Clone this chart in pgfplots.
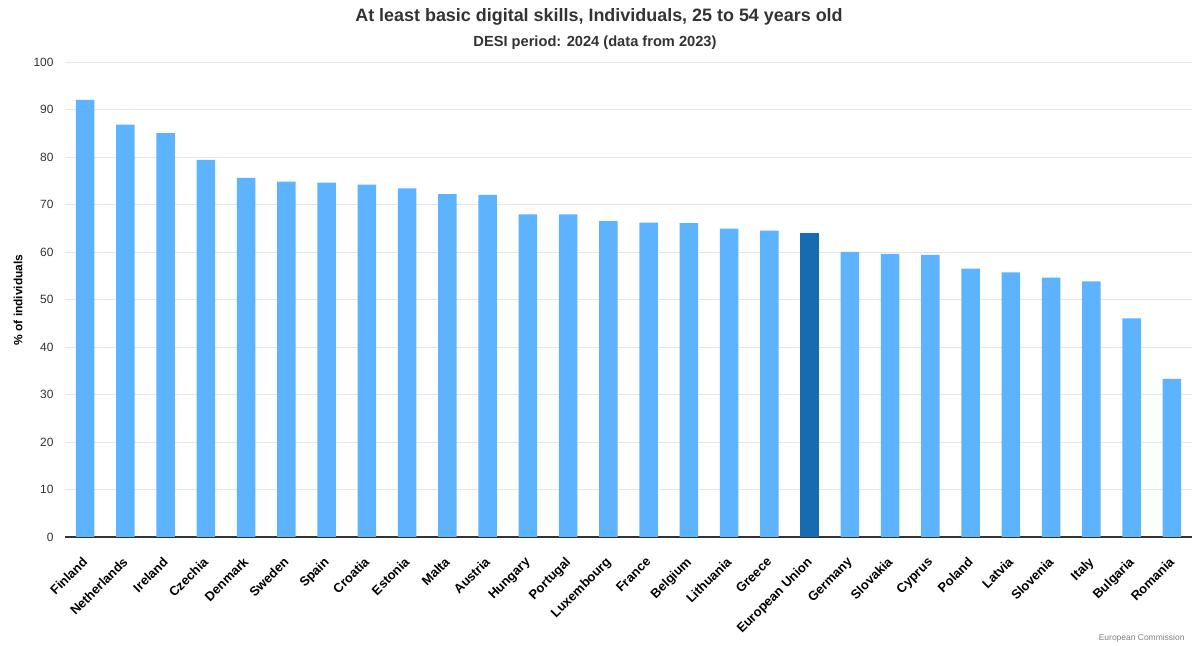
\documentclass[border=0pt]{standalone}
\usepackage{fontspec}
\setmainfont{Liberation Sans}
\usepackage{pgfplots}
\pgfplotsset{compat=1.18}
\definecolor{barblue}{HTML}{5EB3FF}
\definecolor{eublue}{HTML}{176BB0}
\definecolor{gridgray}{HTML}{E6E6E6}
\definecolor{txt}{HTML}{333333}
\begin{document}
\begin{tikzpicture}[x=1bp,y=1bp]
\path[use as bounding box] (0,0) rectangle (1193,646);
\begin{axis}[
  at={(65bp,109bp)}, anchor=south west,
  scale only axis, width=1127bp, height=475bp,
  ymin=0, ymax=100, xmin=-0.5, xmax=27.5,
  ytick={0,10,...,100},
  xtick={0,...,27},
  xticklabels={Finland,Netherlands,Ireland,Czechia,Denmark,Sweden,Spain,Croatia,Estonia,Malta,Austria,Hungary,Portugal,Luxembourg,France,Belgium,Lithuania,Greece,European Union,Germany,Slovakia,Cyprus,Poland,Latvia,Slovenia,Italy,Bulgaria,Romania},
  axis x line*=bottom, axis y line*=left,
  x axis line style={txt, line width=1.2bp, -},
  y axis line style={draw=none},
  major tick length=0pt,
  tick style={draw=none},
  ymajorgrids, grid style={gridgray, line width=0.8bp},
  yticklabel style={font=\fontsize{12}{14}\selectfont, text=txt, xshift=-8bp},
  xticklabel style={rotate=45, anchor=north east, font=\bfseries\fontsize{13}{15}\selectfont, text=black, inner sep=1bp, xshift=-15bp, yshift=-10bp},
  /pgf/number format/assume math mode=true,
  ybar, bar width=18.5bp, bar shift=0pt,
  clip=false,
]
\addplot[fill=barblue, draw=none] coordinates {
(0,92.0) (1,86.8) (2,85.0) (3,79.4) (4,75.6) (5,74.8) (6,74.6) (7,74.2) (8,73.4) (9,72.2) (10,72.0) (11,67.9) (12,67.9) (13,66.5) (14,66.2) (15,66.1) (16,64.9) (17,64.5) (19,60.0) (20,59.6) (21,59.4) (22,56.5) (23,55.7) (24,54.6) (25,53.8) (26,46.0) (27,33.3)
};
\addplot[fill=eublue, draw=none] coordinates {(18,63.9)};
\end{axis}
\node[font=\bfseries\fontsize{18}{21}\selectfont, text=txt] at (599,629) {At least basic digital skills, Individuals, 25 to 54 years old};
\node[font=\bfseries\fontsize{14.7}{17}\selectfont, text=txt] at (595,603) {DESI period: 2024 (data from 2023)};
\node[rotate=90, font=\bfseries\fontsize{12}{14}\selectfont, text=black] at (18,346) {\% of individuals};
\node[anchor=east, font=\fontsize{8.5}{10}\selectfont, text=gray] at (1188,8) {European Commission};
\end{tikzpicture}
\end{document}
